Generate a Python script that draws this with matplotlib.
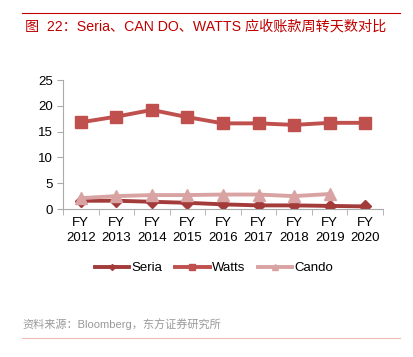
import matplotlib.pyplot as plt
from matplotlib.lines import Line2D

plt.rcParams['font.family'] = ['Liberation Sans', 'Noto Sans CJK SC', 'DejaVu Sans']

years = ['FY\n2012', 'FY\n2013', 'FY\n2014', 'FY\n2015', 'FY\n2016',
         'FY\n2017', 'FY\n2018', 'FY\n2019', 'FY\n2020']
seria = [1.6, 1.6, 1.4, 1.2, 0.9, 0.7, 0.7, 0.6, 0.5]
watts = [16.8, 17.9, 19.2, 17.8, 16.6, 16.6, 16.3, 16.7, 16.7]
cando = [2.1, 2.5, 2.7, 2.7, 2.8, 2.8, 2.5, 2.9]

fig = plt.figure(figsize=(4.14, 3.57), dpi=100)
ax = fig.add_axes([63 / 414, 1 - 209 / 357, 320 / 414, 129 / 357])

x = list(range(len(years)))
ax.plot(x, seria, color='#A33B3A', lw=2.8, marker='D', ms=6, label='Seria')
ax.plot(x, watts, color='#C0504D', lw=2.8, marker='s', ms=9, label='Watts')
ax.plot(x[:len(cando)], cando, color='#D9A3A3', lw=2.8, marker='^', ms=9, label='Cando')

ax.set_xlim(-0.5, len(years) - 0.5)
ax.set_ylim(0, 25)
ax.set_yticks([0, 5, 10, 15, 20, 25])
ax.set_xticks(x)
ax.set_xticklabels(years, fontsize=9.5, linespacing=1.3)
ax.set_xticks([i - 0.5 for i in range(len(years) + 1)], minor=True)
ax.tick_params(axis='x', which='major', length=0, pad=6)
ax.tick_params(axis='x', which='minor', length=4, color='#AAAAAA')
ax.tick_params(axis='y', length=4, color='#AAAAAA', labelsize=9.5)
for s in ['top', 'right']:
    ax.spines[s].set_visible(False)
for s in ['left', 'bottom']:
    ax.spines[s].set_color('#AAAAAA')

handles = [
    Line2D([], [], color='#A33B3A', lw=2.8, marker='D', ms=3),
    Line2D([], [], color='#C0504D', lw=2.8, marker='s', ms=5),
    Line2D([], [], color='#D9A3A3', lw=2.8, marker='^', ms=5),
]
fig.legend(handles, ['Seria', 'Watts', 'Cando'], loc='center',
           bbox_to_anchor=(214 / 414, 1 - 268 / 357), ncol=3, frameon=False,
           fontsize=9.5, handlelength=2.6, handletextpad=0.15, columnspacing=1.0)

fig.add_artist(Line2D([22 / 414, 400 / 414], [1 - 13 / 357] * 2, color='#C00000', lw=0.8))
fig.text(25 / 414, 1 - 27 / 357, '图  22：Seria、CAN DO、WATTS 应收账款周转天数对比',
         color='#C00000', fontsize=10.2, va='center')
fig.text(22 / 414, 1 - 324 / 357, '资料来源：Bloomberg，东方证券研究所',
         color='#999999', fontsize=8, va='center')
fig.add_artist(Line2D([22 / 414, 400 / 414], [1 - 338 / 357] * 2, color='#F2B8B8', lw=0.8))

fig.savefig('out.png', dpi=100)
